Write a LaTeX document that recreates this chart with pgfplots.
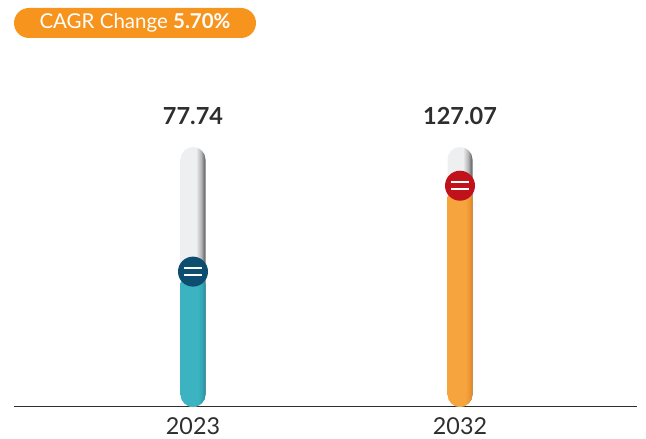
\documentclass[border=0pt]{standalone}
\usepackage{pgfplots}
\pgfplotsset{compat=1.18}
\usepackage{fontspec}
\setmainfont{Lato}
\definecolor{tgL}{HTML}{EEEFF1}
\definecolor{tgM}{HTML}{B5B6B8}
\definecolor{tgD}{HTML}{6A6A6C}
\definecolor{tealL}{HTML}{3BB3C1}
\definecolor{tealM}{HTML}{32A6B4}
\definecolor{tealD}{HTML}{238E9C}
\definecolor{orL}{HTML}{F6A43D}
\definecolor{orM}{HTML}{EE9834}
\definecolor{orD}{HTML}{DC8526}
\definecolor{cblue}{HTML}{0D4D70}
\definecolor{cred}{HTML}{C1121C}
\definecolor{badge}{HTML}{F7941D}
\definecolor{txt}{HTML}{2E2E2E}
\pgfdeclarehorizontalshading{tubegray}{100bp}{color(0bp)=(tgL); color(25bp)=(tgL); color(56bp)=(tgL); color(66bp)=(tgM); color(73bp)=(tgD); color(100bp)=(tgD)}
\pgfdeclarehorizontalshading{tubeteal}{100bp}{color(0bp)=(tealL); color(25bp)=(tealL); color(60bp)=(tealL); color(68bp)=(tealM); color(75bp)=(tealD); color(100bp)=(tealD)}
\pgfdeclarehorizontalshading{tubeor}{100bp}{color(0bp)=(orL); color(25bp)=(orL); color(60bp)=(orL); color(68bp)=(orM); color(75bp)=(orD); color(100bp)=(orD)}
\pgfdeclareplotmark{eqcirc}{%
  \pgfpathcircle{\pgfpointorigin}{\pgfplotmarksize}\pgfusepathqfill
  \begin{pgfscope}
    \pgfsetlinewidth{2.2pt}\pgfsetstrokecolor{white}\pgfsetbuttcap
    \pgfpathmoveto{\pgfpoint{-0.6\pgfplotmarksize}{0.24\pgfplotmarksize}}
    \pgfpathlineto{\pgfpoint{0.6\pgfplotmarksize}{0.24\pgfplotmarksize}}
    \pgfpathmoveto{\pgfpoint{-0.6\pgfplotmarksize}{-0.24\pgfplotmarksize}}
    \pgfpathlineto{\pgfpoint{0.6\pgfplotmarksize}{-0.24\pgfplotmarksize}}
    \pgfusepathqstroke
  \end{pgfscope}
}
\begin{document}
\begin{tikzpicture}
\begin{axis}[
  at={(14pt,32pt)}, anchor=south west,
  scale only axis, width=623pt, height=357pt,
  xmin=-0.6704, xmax=1.6629, ymin=0, ymax=205,
  axis x line=bottom, axis line style={-, draw=txt, line width=1pt},
  hide y axis,
  xtick={0,1}, xticklabels={\textrm{2023},\textrm{2032}},
  major tick length=0pt,
  xticklabel style={font=\fontsize{23.3}{27}\selectfont, text=txt, yshift=-7.5pt},
  clip=false,
  tube/.style={ybar, bar shift=0pt, bar width=25pt, draw=none, rounded corners=12.5pt},
  valnode/.style={nodes near coords, point meta=explicit symbolic,
    every node near coord/.append style={font=\fontsize{23.5}{27}\selectfont\bfseries, text=txt, anchor=south, yshift=18.5pt}},
]
\addplot[tube, shading=tubegray, valnode] coordinates {(0,149.3)[77.74]};
\addplot[tube, shading=tubegray, valnode] coordinates {(1,149.3)[127.07]};
\addplot[tube, shading=tubeteal] coordinates {(0,77.74)};
\addplot[tube, shading=tubeor] coordinates {(1,127.07)};
\addplot[only marks, mark=eqcirc, mark size=15pt, mark options={fill=cblue, draw=none}] coordinates {(0,77.74)};
\addplot[only marks, mark=eqcirc, mark size=15pt, mark options={fill=cred, draw=none}] coordinates {(1,127.07)};
\end{axis}
\node[fill=badge, rounded corners=15pt, minimum width=242pt, minimum height=30pt, inner sep=0pt, text=white, font=\fontsize{20.5}{22}\selectfont] at (135pt,416pt) {CAGR Change \textbf{5.70\%}};
\pgfresetboundingbox
\useasboundingbox (0,0) rectangle (646pt,439pt);
\end{tikzpicture}
\end{document}
